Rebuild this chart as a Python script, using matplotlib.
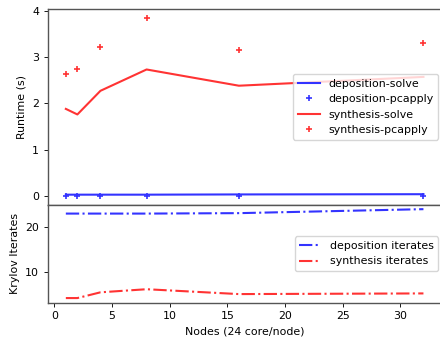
import numpy as np
import matplotlib
matplotlib.use("Agg")
import matplotlib.pyplot as plt

nodes = [1, 2, 4, 8, 16, 32]

deposition_solve = [0.03, 0.03, 0.03, 0.03, 0.035, 0.04]
deposition_pcapply = [0.005, 0.005, 0.005, 0.005, 0.005, 0.005]
synthesis_solve = [1.88, 1.76, 2.27, 2.73, 2.38, 2.57]
synthesis_pcapply = [2.64, 2.73, 3.21, 3.84, 3.15, 3.30]

deposition_iterates = [23.1, 23.1, 23.1, 23.1, 23.2, 24.1]
synthesis_iterates = [4.0, 4.0, 5.3, 6.0, 4.9, 5.05]

blue = "#3333ff"
red = "#ff3333"

# the reference looks like a default-sized figure shrunk down, so scale everything
scale = 0.79
plt.rcParams.update({
    "font.size": 10 * scale,
    "lines.linewidth": 1.5,
    "lines.markersize": 6 * scale,
    "lines.markeredgewidth": 1.2,
    "axes.linewidth": 1.0,
    "axes.edgecolor": "#555555",
    "xtick.major.size": 3.5 * scale,
    "ytick.major.size": 3.5 * scale,
    "xtick.major.width": 0.8 * scale,
    "ytick.major.width": 0.8 * scale,
})

fig = plt.figure(figsize=(4.4, 3.38), dpi=100)
gs = fig.add_gridspec(2, 1, height_ratios=[2, 1], hspace=0,
                      left=0.109, right=1.003, top=0.973, bottom=0.105)
ax_top = fig.add_subplot(gs[0])
ax_bot = fig.add_subplot(gs[1], sharex=ax_top)

ax_top.plot(nodes, deposition_solve, color=blue, label="deposition-solve")
ax_top.plot(nodes, deposition_pcapply, "+", color=blue, label="deposition-pcapply")
ax_top.plot(nodes, synthesis_solve, color=red, label="synthesis-solve")
ax_top.plot(nodes, synthesis_pcapply, "+", color=red, label="synthesis-pcapply")
ax_top.set_ylabel("Runtime (s)")
ax_top.tick_params(labelbottom=False)
ax_top.legend(loc="center right", borderaxespad=0.3)

ax_bot.plot(nodes, deposition_iterates, "-.", color=blue, label="deposition iterates")
ax_bot.plot(nodes, synthesis_iterates, "-.", color=red, label="synthesis iterates")
ax_bot.set_ylabel("Krylov Iterates")
ax_bot.set_xlabel("Nodes (24 core/node)")
ax_bot.legend(loc="center right", borderaxespad=0.3)

fig.savefig("out.png", dpi=100)
